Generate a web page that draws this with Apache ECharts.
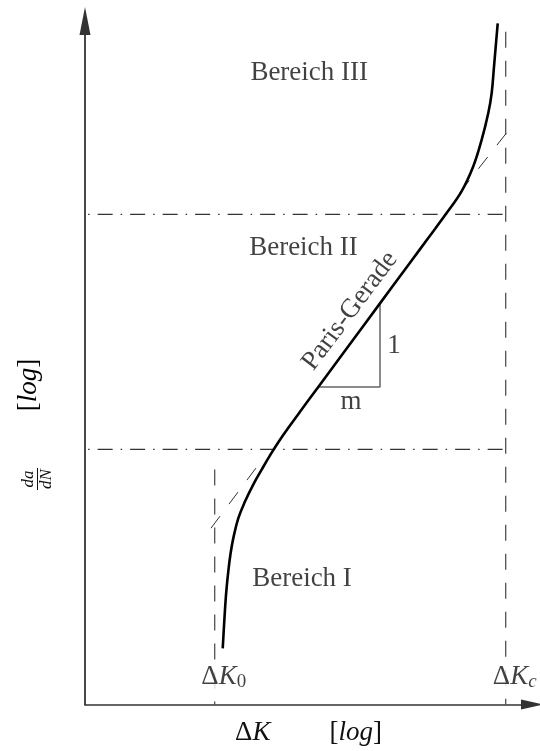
<!DOCTYPE html>
<html>
<head>
<meta charset="utf-8">
<script src="https://cdn.jsdelivr.net/npm/echarts@6/dist/echarts.min.js"></script>
<style>
  html, body { margin: 0; padding: 0; background: #fff; }
  #chart { width: 540px; height: 751px; }
</style>
</head>
<body>
<div id="chart"></div>
<script>
// Fatigue crack growth: rate da/dN against stress-intensity range ΔK.
// Both axes are logarithmic; values are schematic units from 0 to 100.

// Measured crack growth curve
const curveK    = [30.81, 31.10, 31.39, 31.68, 32.06, 32.55, 33.18, 34.30, 35.79, 37.58, 39.69,
                   41.39, 43.36, 45.70, 48.10, 52.19, 59.28, 65.99, 72.71, 76.87, 80.69,
                   84.27, 86.87, 88.75, 90.22, 90.98, 91.50, 91.95, 92.33];
const curveRate = [ 8.21, 11.52, 14.62, 17.06, 19.49, 22.01, 24.34, 27.26, 29.69, 32.11, 34.55,
                   36.44, 38.48, 40.67, 42.83, 46.46, 52.74, 58.69, 64.64, 68.32, 71.72,
                   75.12, 78.76, 82.65, 86.55, 89.46, 93.34, 96.75, 99.66];

// Paris line continued beyond region II (visible parts)
const parisLowK     = [28.19, 38.70];
const parisLowRate  = [25.80, 34.99];
const parisHighK    = [83.89, 95.75];
const parisHighRate = [74.93, 84.84];

// Threshold ΔK0 and critical ΔKc
const kMarks    = [29.02, 94.12];
const kMarkSubs = ['0', 'c'];
const kMarkTops = [34.40, 98.44];

// Region boundaries on the rate axis and region names
const regionBounds = [37.32, 71.72];
const regionNames  = ['Bereich I', 'Bereich II', 'Bereich III'];

// Slope triangle (m : 1)
const slopeK      = [52.19, 66.00, 66.00];
const slopeRate   = [46.46, 46.46, 58.60];
const slopeLabels = ['m', '1'];

const FONT = '"Liberation Serif", "Times New Roman", serif';
const INK = '#111';
const FS = 27;

const zip = (xs, ys) => xs.map((x, i) => [x, ys[i]]);

function path(data, lineStyle, extra) {
  return Object.assign({
    type: 'line', data: data, symbol: 'none', silent: true, clip: false,
    animation: false, z: 2, lineStyle: lineStyle
  }, extra || {});
}

const series = [];

// dash-dot boundaries between regions
regionBounds.forEach(b => {
  series.push(path([[0.7, b], [kMarks[1], b]],
    { color: '#333', width: 1.2, type: [15, 8, 1.5, 8], dashOffset: 23 }));
});

// dashed verticals at ΔK0 and ΔKc
kMarks.forEach((k, i) => {
  series.push(path([[k, kMarkTops[i]], [k, 0]],
    { color: '#444', width: 1.2, type: [16, 13] }));
});

// Paris line extensions
series.push(path(zip(parisLowK, parisLowRate), { color: '#333', width: 1, type: [15, 15] }));
series.push(path(zip(parisHighK, parisHighRate), { color: '#333', width: 1, type: [15, 15] }));

// slope triangle
series.push(path(zip(slopeK, slopeRate), { color: '#666', width: 1.5 }));

// main curve
series.push(path(zip(curveK, curveRate), { color: '#000', width: 2.6 }, { smooth: 0.4, z: 5 }));

// text annotations placed in data coordinates
const baseRich = {
  n:  { fontFamily: FONT, fontSize: FS, color: INK, lineHeight: 30 },
  i:  { fontFamily: FONT, fontSize: FS, color: INK, lineHeight: 30, fontStyle: 'italic' },
  s0: { fontFamily: FONT, fontSize: 19, color: INK, lineHeight: 12, verticalAlign: 'bottom' },
  si: { fontFamily: FONT, fontSize: 19, color: INK, lineHeight: 12, verticalAlign: 'bottom', fontStyle: 'italic' },
  g:  { width: 59 }
};

const regionPos = [[48.55, 18.37], [48.88, 66.76], [50.16, 92.42]];
const notes = [];
regionNames.forEach((name, i) => notes.push({ name: name, value: regionPos[i] }));
notes.push({ name: slopeLabels[0], value: [59.51, 44.31] });
notes.push({ name: slopeLabels[1], value: [69.13, 52.48] });
notes.push({ name: 'Paris-Gerade', value: [59.28, 57.58], label: { rotate: 53 } });
kMarks.forEach((k, i) => notes.push({
  name: '{n|Δ}{i|K}{' + (kMarkSubs[i] === 'c' ? 'si' : 's0') + '|' + kMarkSubs[i] + '}',
  value: [k, 4.08],
  label: { offset: [9, 0], backgroundColor: '#fff', padding: [0, 2], rich: baseRich }
}));

series.push({
  type: 'scatter', symbolSize: 0.1, silent: true, animation: false, clip: false, z: 8,
  itemStyle: { color: 'transparent' },
  data: notes,
  label: {
    show: true, position: 'inside', formatter: p => p.name,
    fontFamily: FONT, fontSize: FS, color: INK
  }
});

const chart = echarts.init(document.getElementById('chart'), null, { renderer: 'canvas' });
chart.setOption({
  backgroundColor: '#fff',
  animation: false,
  grid: { left: 85, right: 8, top: 21, bottom: 44, containLabel: false },
  xAxis: {
    type: 'value', min: 0, max: 100,
    axisLine: { show: true, symbol: ['none', 'triangle'], symbolSize: [10, 22],
                lineStyle: { color: '#333', width: 1.6 } },
    axisTick: { show: false }, axisLabel: { show: false }, splitLine: { show: false },
    name: '{n|Δ}{i|K}{g| }{n|[}{i|log}{n|]}',
    nameLocation: 'middle', nameGap: 13,
    nameTextStyle: { rich: baseRich }
  },
  yAxis: {
    type: 'value', min: 0, max: 100,
    axisLine: { show: true, symbol: ['none', 'triangle'], symbolSize: [11, 28],
                lineStyle: { color: '#333', width: 1.8 } },
    axisTick: { show: false }, axisLabel: { show: false }, splitLine: { show: false }
  },
  graphic: [
    {
      type: 'text', x: 29, y: 385, rotation: Math.PI / 2, silent: true,
      style: {
        text: '{n|[}{i|log}{n|]}', align: 'center', verticalAlign: 'middle',
        rich: baseRich
      }
    },
    {
      type: 'group', x: 37.5, y: 479, rotation: Math.PI / 2, silent: true,
      children: [
        { type: 'text', x: 0, y: 0,
          style: { text: 'da', fontFamily: FONT, fontSize: 17, fontStyle: 'italic', fill: INK,
                   align: 'center', verticalAlign: 'bottom' } },
        { type: 'line', shape: { x1: -11, y1: 0, x2: 11, y2: 0 },
          style: { stroke: INK, lineWidth: 1 } },
        { type: 'text', x: 0, y: 0.5,
          style: { text: 'dN', fontFamily: FONT, fontSize: 17, fontStyle: 'italic', fill: INK,
                   align: 'center', verticalAlign: 'top' } }
      ]
    }
  ],
  series: series
});
</script>
</body>
</html>
